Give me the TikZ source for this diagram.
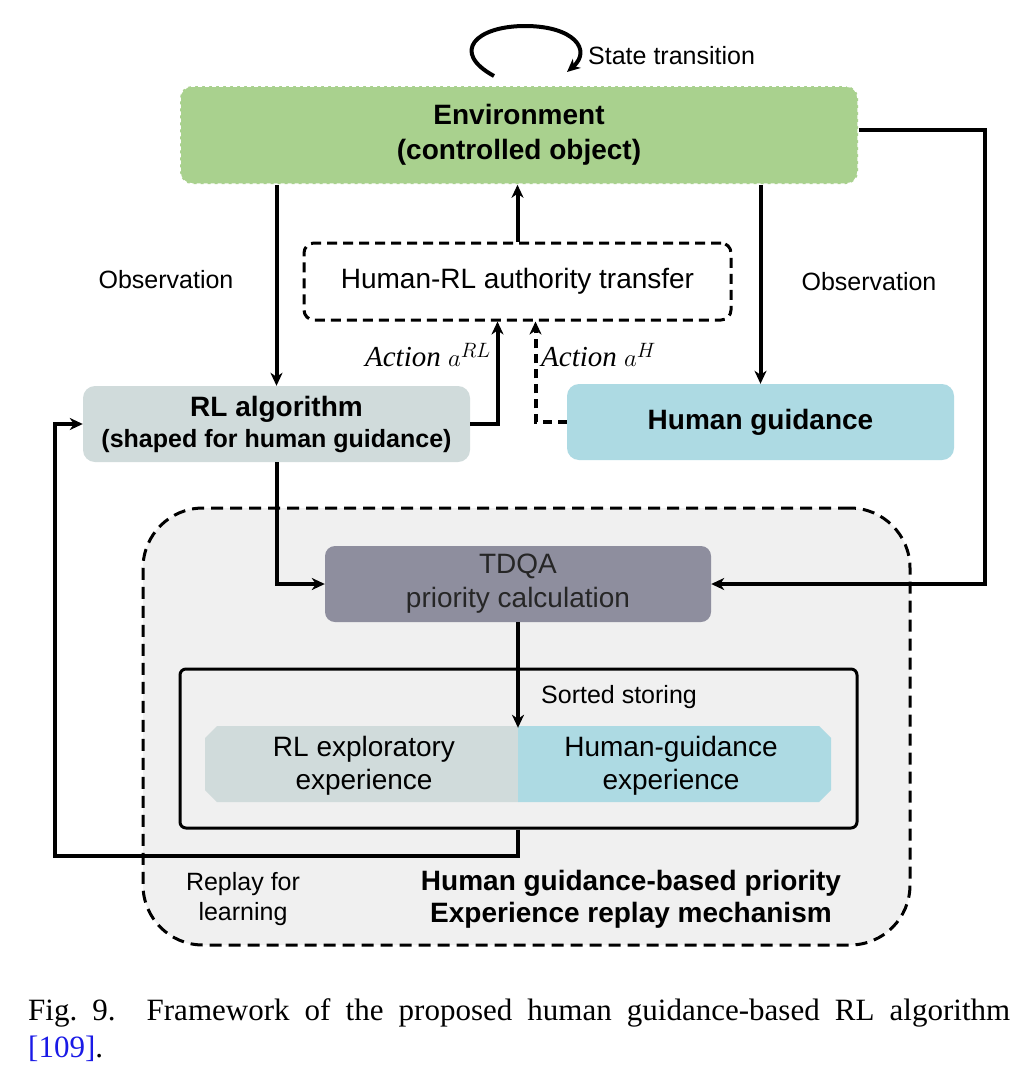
\documentclass[tikz,border=0pt]{standalone}
\usepackage{fontspec}
\setmainfont{Liberation Serif}
\setsansfont{Liberation Sans}
\usetikzlibrary{arrows.meta,calc}
\definecolor{envgreen}{HTML}{A9D18E}
\definecolor{rlgray}{HTML}{D0DBDB}
\definecolor{hgblue}{HTML}{ADDAE3}
\definecolor{tdqagray}{HTML}{8E8E9E}
\definecolor{regionbg}{HTML}{F0F0F0}
\definecolor{linkblue}{HTML}{1A1AE6}
\begin{document}
\begin{tikzpicture}[x=1pt,y=-1pt,
  txtbig/.style={font=\sffamily\fontsize{28}{34}\selectfont},
  txtlbl/.style={font=\sffamily\fontsize{25}{30}\selectfont},
  boxbase/.style={rectangle, rounded corners=12pt, align=center, inner sep=0pt},
  conn/.style={line width=4pt, -{Stealth[length=13pt,width=12pt,inset=4pt]}},
  dashconn/.style={conn, dash pattern=on 9pt off 6pt},
]
\useasboundingbox (0,0) rectangle (1022,1084);
\fill[white] (0,0) rectangle (1022,1084);

% big region
\node[rectangle, rounded corners=60pt, minimum width=767pt, minimum height=437pt,
  fill=regionbg, draw=black, line width=3pt, dash pattern=on 12pt off 7pt] (region) at (526.5,726.5) {};

% environment
\node[boxbase, minimum width=678pt, minimum height=98pt, fill=envgreen, draw=white,
  line width=1.5pt, dash pattern=on 4pt off 3pt, font=\sffamily\bfseries\fontsize{28}{35}\selectfont]
  (env) at (519,135) {Environment\\(controlled object)};

% authority transfer
\node[boxbase, rounded corners=10pt, minimum width=427pt, minimum height=77pt, draw=black,
  line width=3pt, dash pattern=on 10pt off 6pt, txtbig] (auth) at (517.5,281.5) {Human-RL authority transfer};

% RL algorithm
\node[boxbase, minimum width=387pt, minimum height=76pt, fill=rlgray,
  font=\sffamily\bfseries\fontsize{28}{31}\selectfont] (rl) at (276.5,424)
  {RL algorithm\\{\fontsize{25}{30}\selectfont (shaped for human guidance)}};

% Human guidance
\node[boxbase, minimum width=387pt, minimum height=76pt, fill=hgblue,
  font=\sffamily\bfseries\fontsize{28}{34}\selectfont] (hum) at (760.5,422) {Human guidance};

% TDQA
\node[boxbase, rounded corners=10pt, minimum width=386pt, minimum height=76pt, fill=tdqagray,
  text=black!85, txtbig] (tdqa) at (518,584) {TDQA\\priority calculation};

% storage box
\node[rectangle, rounded corners=6pt, minimum width=677pt, minimum height=159pt, draw=black,
  line width=3pt] (store) at (518.5,748.5) {};

% experience halves
\fill[rlgray] (217,726) -- (518,726) -- (518,802) -- (217,802) -- (205,790) -- (205,738) -- cycle;
\fill[hgblue] (518,726) -- (819,726) -- (831,738) -- (831,790) -- (819,802) -- (518,802) -- cycle;
\node[inner sep=0pt, minimum width=313pt, minimum height=76pt, align=center,
  font=\sffamily\fontsize{28}{33}\selectfont] (rlexp) at (364,766) {RL exploratory\\experience};
\node[inner sep=0pt, minimum width=313pt, minimum height=76pt, align=center,
  font=\sffamily\fontsize{28}{33}\selectfont] (hgexp) at (671,766) {Human-guidance\\experience};

% labels
\node[txtlbl, anchor=west, inner sep=0pt] (state) at (588,56) {State transition};
\node[txtlbl, inner sep=0pt] (obsl) at (166,280) {Observation};
\node[txtlbl, inner sep=0pt] (obsr) at (869,282) {Observation};
\node[anchor=east, inner sep=0pt, font=\fontsize{29}{34}\selectfont] (actrl) at (491,355) {$\mathit{Action}\ a^{RL}$};
\node[anchor=west, inner sep=0pt, font=\fontsize{29}{34}\selectfont] (acth) at (541,355) {$\mathit{Action}\ a^{H}$};
\node[txtlbl, anchor=west, inner sep=0pt] (sorted) at (541,697) {Sorted storing};
\node[align=center, inner sep=0pt, font=\sffamily\fontsize{25}{30}\selectfont] (replay) at (243,899) {Replay for\\learning};
\node[align=center, inner sep=0pt, font=\sffamily\bfseries\fontsize{28}{32}\selectfont] (mech) at (631,899)
  {Human guidance-based priority\\Experience replay mechanism};

% connectors
\coordinate (loopa) at (494,76);
\coordinate (loopb) at (567,72);
\draw[line width=4pt, -{Stealth[length=13pt,width=12pt,inset=4pt]}] (loopa)
  .. controls (450,52) and (476,26) .. (525,26)
  .. controls (574,26) and (592,50) .. (loopb);
\draw[conn] (env.south -| rl.north) -- (rl.north);
\draw[conn] (auth.north) -- (auth.north |- env.south);
\draw[conn] (env.south -| hum.north) -- (hum.north);
\draw[conn] (rl.east) -| ([xshift=-20pt]auth.south);
\draw[dashconn] (hum.west) -| ([xshift=18pt]auth.south);
\draw[conn] (rl.south) |- (tdqa.west);
\coordinate (rightturn) at (985,130);
\draw[conn] (env.east |- rightturn) -- (rightturn) |- (tdqa.east);
\draw[conn] (tdqa.south) -- (tdqa.south |- rlexp.north);
\coordinate (replayturn) at (518,856);
\draw[conn] (store.south -| replayturn) -- (replayturn) -| ([xshift=-28pt]rl.west) -- (rl.west);

% caption
\node[anchor=base west, inner sep=0pt, font=\rmfamily\fontsize{31}{37}\selectfont] (cap1) at (28,1020)
  {\makebox[982pt][s]{Fig.~9.\hspace{1em}Framework of the proposed human guidance-based RL algorithm}};
\node[anchor=base west, inner sep=0pt, font=\rmfamily\fontsize{31}{37}\selectfont] (cap2) at (28,1057)
  {\textcolor{linkblue}{[109]}.};
\end{tikzpicture}
\end{document}
